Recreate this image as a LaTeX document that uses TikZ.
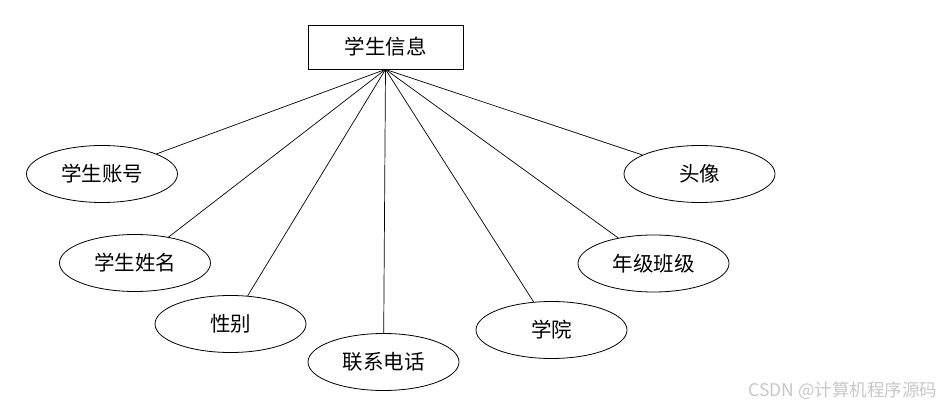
\documentclass[tikz,border=0pt]{standalone}
\usepackage{fontspec}
\newfontfamily\cjk{Noto Sans CJK SC}
\usetikzlibrary{shapes.geometric}
\tikzset{entity/.style = {draw, fill=white, line width=0.8pt, rectangle, minimum height=44pt, minimum width=155pt, font=\cjk\fontsize{20.5}{24}\selectfont},
         attr/.style = {draw, fill=white, line width=0.8pt, ellipse, inner sep=0pt, minimum height=57pt, minimum width=151pt, font=\cjk\fontsize{20.5}{24}\selectfont},
         link/.style = {line width=0.7pt}}

\begin{document}
\begin{tikzpicture}[x=1pt,y=-1pt]
    \useasboundingbox(0,0)rectangle(945,409);
    \node[entity](info)at(385.5,47){学生信息};
    \coordinate(hub)at(info.south);
    \node[attr](account)at(102,174){学生账号};
    \node[attr](name)at(135,263){学生姓名};
    \node[attr](sex)at(230.5,324){性别};
    \node[attr](phone)at(383.5,362){联系电话};
    \node[attr](college)at(551.5,330){学院};
    \node[attr](grade)at(653.5,263.5){年级班级};
    \node[attr](avatar)at(699.5,174){头像};
    %\node[attr](age)at(800,330){};
    \draw[link](hub)--(account);
    \draw[link](hub)--(name);
    \draw[link](hub)--(sex);
    \draw[link](hub)--(phone);
    \draw[link](hub)--(college);
    \draw[link](hub)--(grade);
    \draw[link](hub)--(avatar);

    \node[anchor=east, text=black!22, font=\cjk\fontsize{17.5}{20}\selectfont](mark)at(941,391){CSDN @计算机程序源码};
\end{tikzpicture}
\end{document}
